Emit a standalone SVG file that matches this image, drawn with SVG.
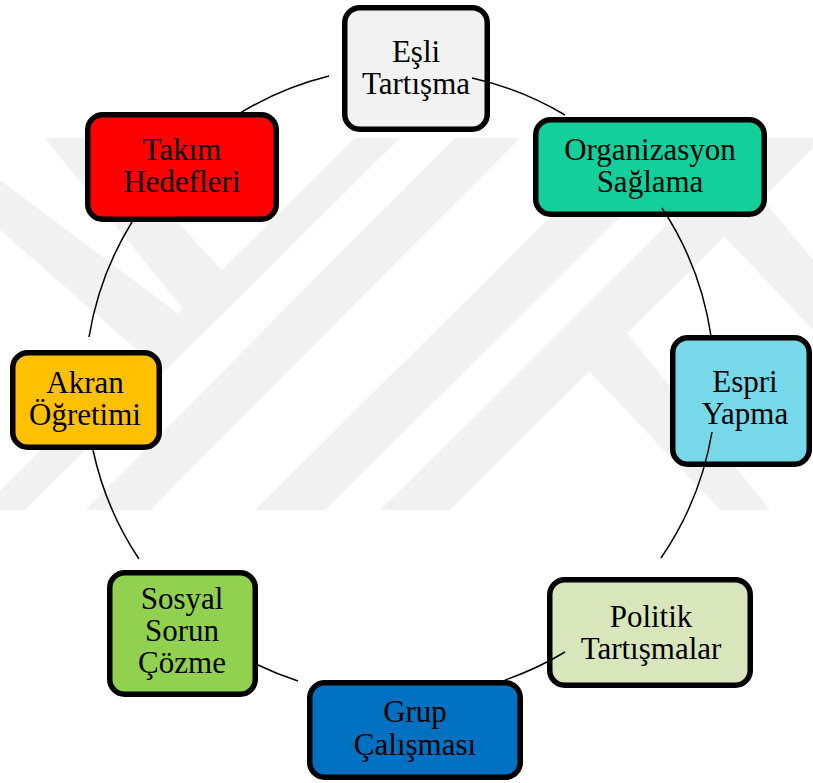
<svg xmlns="http://www.w3.org/2000/svg" width="813" height="783" viewBox="0 0 813 783">
<style>
.box{stroke:#000;stroke-width:5.5}
.lbl{font-family:"Liberation Serif","Times New Roman",serif;font-size:31px;fill:#000;text-anchor:middle}
.arc{fill:none;stroke:#000;stroke-width:1.5}
.wm{fill:#f1f1f1}
</style>
<defs>
<clipPath id="wmclip"><rect x="0" y="138" width="813" height="372"/></clipPath>
</defs>
<rect width="813" height="783" fill="#fff"/>
<g id="watermark" class="wm" clip-path="url(#wmclip)">
<polygon points="0,180 0,230 160,370 200,330"/>
<polygon points="45,138 100,138 240,290 200,330"/>
<polygon points="-20,510 25,510 400,138 355,138"/>
<polygon points="85,510 150,510 520,138 455,138"/>
<polygon points="255,510 325,510 700,138 630,138"/>
<polygon points="380,510 450,510 813,148 813,80"/>
<polygon points="560,340 600,300 770,510 720,510"/>
<polygon points="690,200 730,160 813,260 813,330"/>
</g>
<g id="nodes" font-family="Liberation Serif, Times New Roman, serif">
<g id="n-esli"><rect class="box" x="344.75" y="7.75" width="142.5" height="121.5" rx="15" fill="#f2f2f2"/><text class="lbl" x="416" y="62">Eşli</text><text class="lbl" x="416" y="94">Tartışma</text></g>
<g id="n-org"><rect class="box" x="535.75" y="119.75" width="228.5" height="94.5" rx="15" fill="#13cf9b"/><text class="lbl" x="650" y="160">Organizasyon</text><text class="lbl" x="650" y="192">Sağlama</text></g>
<g id="n-espri"><rect class="box" x="672.75" y="337.75" width="136.5" height="126.5" rx="15" fill="#76d8e8"/><text class="lbl" x="745" y="392">Espri</text><text class="lbl" x="745" y="424">Yapma</text></g>
<g id="n-politik"><rect class="box" x="549.75" y="579.75" width="200.5" height="105.5" rx="15" fill="#d9e5bb"/><text class="lbl" x="651" y="627">Politik</text><text class="lbl" x="651" y="659">Tartışmalar</text></g>
<g id="n-grup"><rect class="box" x="309.75" y="682.75" width="210.5" height="94.5" rx="15" fill="#0070c0"/><text class="lbl" x="415" y="722">Grup</text><text class="lbl" x="415" y="755">Çalışması</text></g>
<g id="n-sosyal"><rect class="box" x="109.75" y="572.75" width="145.5" height="121.5" rx="15" fill="#92d050"/><text class="lbl" x="182" y="609">Sosyal</text><text class="lbl" x="182" y="641">Sorun</text><text class="lbl" x="182" y="673">Çözme</text></g>
<g id="n-akran"><rect class="box" x="12.75" y="352.75" width="146.5" height="94.5" rx="15" fill="#ffc000"/><text class="lbl" x="85" y="393">Akran</text><text class="lbl" x="85" y="425">Öğretimi</text></g>
<g id="n-takim"><rect class="box" x="87.75" y="114.75" width="188.5" height="104.5" rx="15" fill="#ff0000"/><text class="lbl" x="182" y="160">Takım</text><text class="lbl" x="182" y="192">Hedefleri</text></g>
</g>
<g id="connectors">
<path class="arc" d="M472,78 A315,315 0 0 1 565,115"/>
<path class="arc" d="M662,208 A315,315 0 0 1 711,336"/>
<path class="arc" d="M712,432 A315,315 0 0 1 661,558"/>
<path class="arc" d="M565,652 A315,315 0 0 1 505,680"/>
<path class="arc" d="M298,681 A315,315 0 0 1 258,665"/>
<path class="arc" d="M139,559 A315,315 0 0 1 93,450"/>
<path class="arc" d="M89,337 A315,315 0 0 1 132,222"/>
<path class="arc" d="M237,115 A315,315 0 0 1 329,76"/>
</g>
</svg>
